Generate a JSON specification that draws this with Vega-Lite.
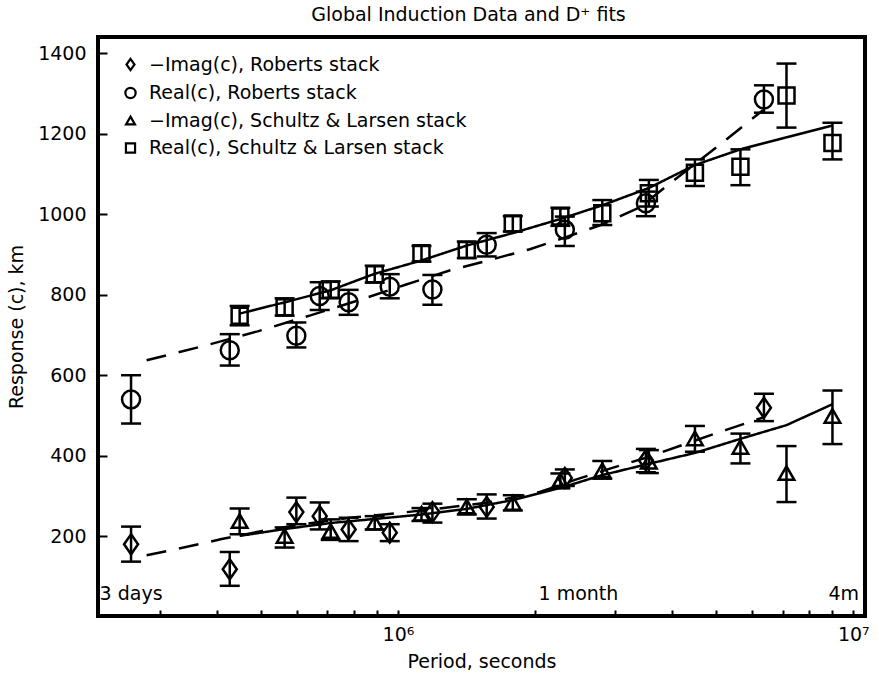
{
  "$schema": "https://vega.github.io/schema/vega-lite/v6.json",
  "width": 767,
  "height": 579,
  "autosize": {"type": "none"},
  "padding": {"left": 98, "top": 37, "right": 14, "bottom": 61},
  "background": "white",
  "config": {
    "font": "DejaVu Sans",
    "view": {"stroke": "black", "strokeWidth": 4},
    "axis": {"domain": false, "grid": false, "labelColor": "black", "titleColor": "black", "tickColor": "black", "labelFont": "DejaVu Sans", "titleFont": "DejaVu Sans", "labelFontSize": 19, "titleFontSize": 19, "titleFontWeight": "normal"},
    "legend": {"labelFont": "DejaVu Sans", "labelFontSize": 19, "labelColor": "black", "labelLimit": 0}
  },
  "title": {"text": "Global Induction Data and D⁺ fits", "fontSize": 19, "fontWeight": "normal", "color": "black", "offset": 12, "dx": -13},
  "datasets": {
    "points": [
      {"series": "Real(c), Roberts stack", "period": 259200, "value": 540, "lo": 480, "hi": 600},
      {"series": "Real(c), Roberts stack", "period": 427000, "value": 662, "lo": 624, "hi": 702},
      {"series": "Real(c), Roberts stack", "period": 598000, "value": 698, "lo": 669, "hi": 731},
      {"series": "Real(c), Roberts stack", "period": 673000, "value": 797, "lo": 762, "hi": 831},
      {"series": "Real(c), Roberts stack", "period": 779000, "value": 781, "lo": 750, "hi": 812},
      {"series": "Real(c), Roberts stack", "period": 959000, "value": 820, "lo": 791, "hi": 851},
      {"series": "Real(c), Roberts stack", "period": 1190000, "value": 813, "lo": 775, "hi": 849},
      {"series": "Real(c), Roberts stack", "period": 1566000, "value": 924, "lo": 895, "hi": 953},
      {"series": "Real(c), Roberts stack", "period": 2325000, "value": 961, "lo": 921, "hi": 994},
      {"series": "Real(c), Roberts stack", "period": 3503000, "value": 1027, "lo": 995, "hi": 1056},
      {"series": "Real(c), Roberts stack", "period": 6364000, "value": 1285, "lo": 1252, "hi": 1320},
      {"series": "Real(c), Schultz & Larsen stack", "period": 448900, "value": 748, "lo": 724, "hi": 772},
      {"series": "Real(c), Schultz & Larsen stack", "period": 563600, "value": 769, "lo": 748, "hi": 791},
      {"series": "Real(c), Schultz & Larsen stack", "period": 711500, "value": 812, "lo": 791, "hi": 833},
      {"series": "Real(c), Schultz & Larsen stack", "period": 888800, "value": 851, "lo": 830, "hi": 872},
      {"series": "Real(c), Schultz & Larsen stack", "period": 1126000, "value": 903, "lo": 882, "hi": 921},
      {"series": "Real(c), Schultz & Larsen stack", "period": 1416000, "value": 911, "lo": 891, "hi": 932},
      {"series": "Real(c), Schultz & Larsen stack", "period": 1787000, "value": 977, "lo": 957, "hi": 995},
      {"series": "Real(c), Schultz & Larsen stack", "period": 2273000, "value": 994, "lo": 971, "hi": 1016},
      {"series": "Real(c), Schultz & Larsen stack", "period": 2810000, "value": 1002, "lo": 973, "hi": 1035},
      {"series": "Real(c), Schultz & Larsen stack", "period": 3556000, "value": 1052, "lo": 1019, "hi": 1085},
      {"series": "Real(c), Schultz & Larsen stack", "period": 4489000, "value": 1103, "lo": 1070, "hi": 1136},
      {"series": "Real(c), Schultz & Larsen stack", "period": 5651000, "value": 1118, "lo": 1072, "hi": 1161},
      {"series": "Real(c), Schultz & Larsen stack", "period": 7133000, "value": 1295, "lo": 1215, "hi": 1374},
      {"series": "Real(c), Schultz & Larsen stack", "period": 9000000, "value": 1177, "lo": 1136, "hi": 1227},
      {"series": "−Imag(c), Roberts stack", "period": 259200, "value": 180, "lo": 137, "hi": 224},
      {"series": "−Imag(c), Roberts stack", "period": 427000, "value": 118, "lo": 77, "hi": 161},
      {"series": "−Imag(c), Roberts stack", "period": 598000, "value": 260, "lo": 230, "hi": 296},
      {"series": "−Imag(c), Roberts stack", "period": 673000, "value": 250, "lo": 217, "hi": 284},
      {"series": "−Imag(c), Roberts stack", "period": 779000, "value": 217, "lo": 188, "hi": 246},
      {"series": "−Imag(c), Roberts stack", "period": 959000, "value": 209, "lo": 188, "hi": 230},
      {"series": "−Imag(c), Roberts stack", "period": 1190000, "value": 260, "lo": 234, "hi": 281},
      {"series": "−Imag(c), Roberts stack", "period": 1566000, "value": 273, "lo": 244, "hi": 304},
      {"series": "−Imag(c), Roberts stack", "period": 2325000, "value": 345, "lo": 325, "hi": 366},
      {"series": "−Imag(c), Roberts stack", "period": 3503000, "value": 389, "lo": 359, "hi": 417},
      {"series": "−Imag(c), Roberts stack", "period": 6364000, "value": 519, "lo": 486, "hi": 554},
      {"series": "−Imag(c), Schultz & Larsen stack", "period": 448900, "value": 238, "lo": 205, "hi": 269},
      {"series": "−Imag(c), Schultz & Larsen stack", "period": 563600, "value": 201, "lo": 172, "hi": 222},
      {"series": "−Imag(c), Schultz & Larsen stack", "period": 711500, "value": 213, "lo": 191, "hi": 242},
      {"series": "−Imag(c), Schultz & Larsen stack", "period": 888800, "value": 234, "lo": 217, "hi": 250},
      {"series": "−Imag(c), Schultz & Larsen stack", "period": 1126000, "value": 256, "lo": 238, "hi": 270},
      {"series": "−Imag(c), Schultz & Larsen stack", "period": 1416000, "value": 274, "lo": 254, "hi": 292},
      {"series": "−Imag(c), Schultz & Larsen stack", "period": 1787000, "value": 283, "lo": 264, "hi": 302},
      {"series": "−Imag(c), Schultz & Larsen stack", "period": 2273000, "value": 339, "lo": 319, "hi": 356},
      {"series": "−Imag(c), Schultz & Larsen stack", "period": 2810000, "value": 364, "lo": 343, "hi": 387},
      {"series": "−Imag(c), Schultz & Larsen stack", "period": 3556000, "value": 385, "lo": 357, "hi": 414},
      {"series": "−Imag(c), Schultz & Larsen stack", "period": 4489000, "value": 443, "lo": 410, "hi": 474},
      {"series": "−Imag(c), Schultz & Larsen stack", "period": 5651000, "value": 422, "lo": 381, "hi": 455},
      {"series": "−Imag(c), Schultz & Larsen stack", "period": 7133000, "value": 357, "lo": 285, "hi": 424},
      {"series": "−Imag(c), Schultz & Larsen stack", "period": 9000000, "value": 499, "lo": 429, "hi": 562}
    ],
    "fits": [
      {"fit": "real_roberts", "style": "dashed", "period": 280400, "value": 637},
      {"fit": "real_roberts", "style": "dashed", "period": 372300, "value": 672},
      {"fit": "real_roberts", "style": "dashed", "period": 491500, "value": 709},
      {"fit": "real_roberts", "style": "dashed", "period": 639500, "value": 748},
      {"fit": "real_roberts", "style": "dashed", "period": 823800, "value": 787},
      {"fit": "real_roberts", "style": "dashed", "period": 1034000, "value": 824},
      {"fit": "real_roberts", "style": "dashed", "period": 1298000, "value": 860},
      {"fit": "real_roberts", "style": "dashed", "period": 1566000, "value": 884},
      {"fit": "real_roberts", "style": "dashed", "period": 1948000, "value": 913},
      {"fit": "real_roberts", "style": "dashed", "period": 2313000, "value": 941},
      {"fit": "real_roberts", "style": "dashed", "period": 2818000, "value": 975},
      {"fit": "real_roberts", "style": "dashed", "period": 3398000, "value": 1017},
      {"fit": "real_roberts", "style": "dashed", "period": 3995000, "value": 1080},
      {"fit": "real_roberts", "style": "dashed", "period": 5017000, "value": 1167},
      {"fit": "real_roberts", "style": "dashed", "period": 6332000, "value": 1258},
      {"fit": "imag_roberts", "style": "dashed", "period": 280400, "value": 153},
      {"fit": "imag_roberts", "style": "dashed", "period": 338100, "value": 172},
      {"fit": "imag_roberts", "style": "dashed", "period": 409800, "value": 193},
      {"fit": "imag_roberts", "style": "dashed", "period": 496600, "value": 212},
      {"fit": "imag_roberts", "style": "dashed", "period": 608100, "value": 229},
      {"fit": "imag_roberts", "style": "dashed", "period": 783100, "value": 246},
      {"fit": "imag_roberts", "style": "dashed", "period": 1009000, "value": 258},
      {"fit": "imag_roberts", "style": "dashed", "period": 1298000, "value": 272},
      {"fit": "imag_roberts", "style": "dashed", "period": 1566000, "value": 283},
      {"fit": "imag_roberts", "style": "dashed", "period": 2048000, "value": 310},
      {"fit": "imag_roberts", "style": "dashed", "period": 2446000, "value": 340},
      {"fit": "imag_roberts", "style": "dashed", "period": 2920000, "value": 368},
      {"fit": "imag_roberts", "style": "dashed", "period": 3503000, "value": 395},
      {"fit": "imag_roberts", "style": "dashed", "period": 4421000, "value": 435},
      {"fit": "imag_roberts", "style": "dashed", "period": 5277000, "value": 465},
      {"fit": "imag_roberts", "style": "dashed", "period": 6332000, "value": 495},
      {"fit": "real_sl", "style": "solid", "period": 448900, "value": 753},
      {"fit": "real_sl", "style": "solid", "period": 563600, "value": 781},
      {"fit": "real_sl", "style": "solid", "period": 711500, "value": 811},
      {"fit": "real_sl", "style": "solid", "period": 888800, "value": 852},
      {"fit": "real_sl", "style": "solid", "period": 1126000, "value": 885},
      {"fit": "real_sl", "style": "solid", "period": 1416000, "value": 922},
      {"fit": "real_sl", "style": "solid", "period": 1787000, "value": 953},
      {"fit": "real_sl", "style": "solid", "period": 2273000, "value": 988},
      {"fit": "real_sl", "style": "solid", "period": 2810000, "value": 1022},
      {"fit": "real_sl", "style": "solid", "period": 3556000, "value": 1065},
      {"fit": "real_sl", "style": "solid", "period": 4489000, "value": 1122},
      {"fit": "real_sl", "style": "solid", "period": 5651000, "value": 1161},
      {"fit": "real_sl", "style": "solid", "period": 7133000, "value": 1191},
      {"fit": "real_sl", "style": "solid", "period": 9000000, "value": 1220},
      {"fit": "imag_sl", "style": "solid", "period": 448900, "value": 201},
      {"fit": "imag_sl", "style": "solid", "period": 563600, "value": 218},
      {"fit": "imag_sl", "style": "solid", "period": 711500, "value": 233},
      {"fit": "imag_sl", "style": "solid", "period": 888800, "value": 243},
      {"fit": "imag_sl", "style": "solid", "period": 1126000, "value": 254},
      {"fit": "imag_sl", "style": "solid", "period": 1416000, "value": 268},
      {"fit": "imag_sl", "style": "solid", "period": 1787000, "value": 290},
      {"fit": "imag_sl", "style": "solid", "period": 2273000, "value": 320},
      {"fit": "imag_sl", "style": "solid", "period": 2810000, "value": 352},
      {"fit": "imag_sl", "style": "solid", "period": 3556000, "value": 380},
      {"fit": "imag_sl", "style": "solid", "period": 4489000, "value": 407},
      {"fit": "imag_sl", "style": "solid", "period": 5651000, "value": 442},
      {"fit": "imag_sl", "style": "solid", "period": 7133000, "value": 476},
      {"fit": "imag_sl", "style": "solid", "period": 9000000, "value": 528}
    ],
    "notes": [
      {"label": "3 days", "period": 259200, "value": 42},
      {"label": "1 month", "period": 2490000, "value": 42},
      {"label": "4m", "period": 9530000, "value": 42}
    ]
  },
  "layer": [
    {
      "data": {"name": "fits"},
      "mark": {"type": "line", "color": "black", "strokeWidth": 2.5},
      "encoding": {
        "x": {"field": "period", "type": "quantitative", "scale": {"type": "log", "domain": [219300, 10610000], "nice": false}},
        "y": {"field": "value", "type": "quantitative", "scale": {"domain": [2, 1440], "nice": false, "zero": false}},
        "detail": {"field": "fit"},
        "strokeDash": {"field": "style", "type": "nominal", "scale": {"domain": ["solid", "dashed"], "range": [[1, 0], [20, 13]]}, "legend": null}
      }
    },
    {
      "data": {"name": "points"},
      "mark": {"type": "rule", "color": "black", "strokeWidth": 2.5, "opacity": 1},
      "encoding": {
        "x": {"field": "period", "type": "quantitative"},
        "y": {"field": "lo", "type": "quantitative"},
        "y2": {"field": "hi"}
      }
    },
    {
      "data": {"name": "points"},
      "mark": {"type": "tick", "orient": "horizontal", "color": "black", "size": 20, "thickness": 2.5, "opacity": 1},
      "encoding": {
        "x": {"field": "period", "type": "quantitative"},
        "y": {"field": "lo", "type": "quantitative"}
      }
    },
    {
      "data": {"name": "points"},
      "mark": {"type": "tick", "orient": "horizontal", "color": "black", "size": 20, "thickness": 2.5, "opacity": 1},
      "encoding": {
        "x": {"field": "period", "type": "quantitative"},
        "y": {"field": "hi", "type": "quantitative"}
      }
    },
    {
      "data": {"name": "points"},
      "mark": {"type": "point", "filled": false, "color": "black", "strokeWidth": 2.5, "opacity": 1, "size": 400},
      "encoding": {
        "x": {"field": "period", "type": "quantitative", "title": "Period, seconds", "axis": {"values": [300000, 400000, 500000, 600000, 700000, 800000, 900000, 1000000, 2000000, 3000000, 4000000, 5000000, 6000000, 7000000, 8000000, 9000000, 10000000], "labelExpr": "datum.value == 1000000 ? '10⁶' : (datum.value == 10000000 ? '10⁷' : '')", "tickSize": -6, "tickWidth": 2, "labelPadding": 15, "titlePadding": 8, "labelFlush": false, "labelOverlap": false}},
        "y": {"field": "value", "type": "quantitative", "title": "Response (c), km", "axis": {"values": [200, 400, 600, 800, 1000, 1200, 1400], "format": "d", "tickSize": -9, "tickWidth": 2, "labelPadding": 21, "titlePadding": 11}},
        "shape": {"field": "series", "type": "nominal", "scale": {"domain": ["−Imag(c), Roberts stack", "Real(c), Roberts stack", "−Imag(c), Schultz & Larsen stack", "Real(c), Schultz & Larsen stack"], "range": ["M0,-1L0.7,0L0,1L-0.7,0Z", "M-0.9,0A0.9,0.9 0 1,0 0.9,0A0.9,0.9 0 1,0 -0.9,0Z", "M0,-0.68L0.78,0.68L-0.78,0.68Z", "M-0.8,-0.8L0.8,-0.8L0.8,0.8L-0.8,0.8Z"]}, "legend": {"title": null, "orient": "none", "legendX": 23, "legendY": 18, "symbolSize": 130, "symbolStrokeWidth": 2.2, "symbolStrokeColor": "black", "symbolFillColor": "transparent", "labelOffset": 9, "rowPadding": 7.5, "labelFontSize": 19, "labelLimit": 0}}
      }
    },
    {
      "data": {"name": "notes"},
      "mark": {"type": "text", "color": "black", "fontSize": 19, "align": "center", "baseline": "alphabetic"},
      "encoding": {
        "x": {"field": "period", "type": "quantitative"},
        "y": {"field": "value", "type": "quantitative"},
        "text": {"field": "label"}
      }
    }
  ]
}
